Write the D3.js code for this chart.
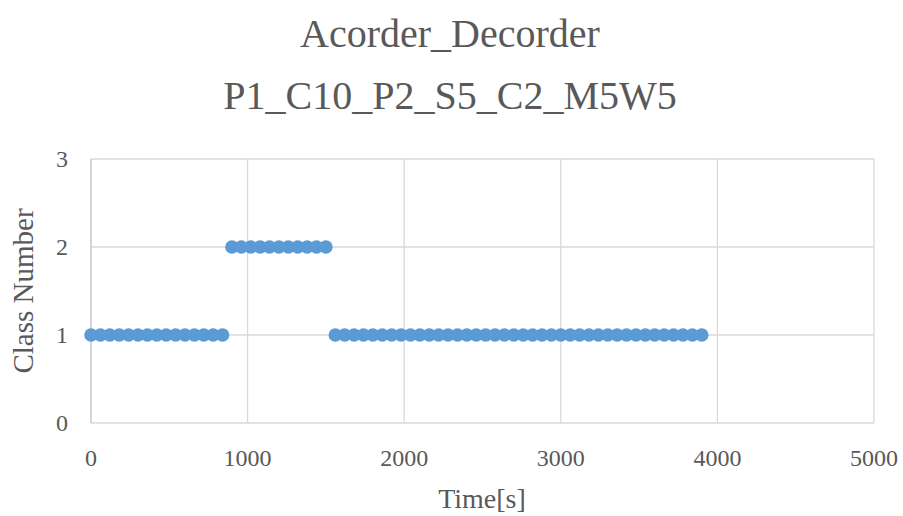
<!DOCTYPE html>
<html>
<head>
<meta charset="utf-8">
<script src="https://cdn.jsdelivr.net/npm/d3@7"></script>
<style>
body{margin:0;background:#fff;}
text{font-family:"Liberation Serif","DejaVu Serif",serif;fill:#595959;}
</style>
</head>
<body>
<svg id="c" width="903" height="516"></svg>
<script>
const titleLines = ["Acorder_Decorder", "P1_C10_P2_S5_C2_M5W5"];
const xTicks = [0, 1000, 2000, 3000, 4000, 5000];
const yTicks = [0, 1, 2, 3];
const times = [
  0,60,120,180,240,300,360,420,480,540,600,660,720,780,840,
  900,960,1020,1080,1140,1200,1260,1320,1380,1440,1500,
  1560,1620,1680,1740,1800,1860,1920,1980,2040,2100,2160,2220,2280,2340,
  2400,2460,2520,2580,2640,2700,2760,2820,2880,2940,3000,3060,3120,3180,
  3240,3300,3360,3420,3480,3540,3600,3660,3720,3780,3840,3900
];
const classes = [
  1,1,1,1,1,1,1,1,1,1,1,1,1,1,1,
  2,2,2,2,2,2,2,2,2,2,2,
  1,1,1,1,1,1,1,1,1,1,1,1,1,1,
  1,1,1,1,1,1,1,1,1,1,1,1,1,1,
  1,1,1,1,1,1,1,1,1,1,1,1
];

const svg = d3.select("#c");
const m = {l:91, r:874, t:159, b:423};
const x = d3.scaleLinear().domain([0,5000]).range([m.l, m.r]);
const y = d3.scaleLinear().domain([0,3]).range([m.b, m.t]);

// grid
svg.append("g").selectAll("line").data(yTicks).join("line")
  .attr("x1", m.l).attr("x2", m.r)
  .attr("y1", d=>y(d)).attr("y2", d=>y(d))
  .attr("stroke", "#d9d9d9").attr("stroke-width", 1.3);
svg.append("g").selectAll("line").data(xTicks).join("line")
  .attr("y1", m.t).attr("y2", m.b)
  .attr("x1", d=>x(d)).attr("x2", d=>x(d))
  .attr("stroke", d=> d===0 ? "#bfbfbf" : "#d9d9d9").attr("stroke-width", 1.3);

// tick labels
svg.append("g").selectAll("text").data(yTicks).join("text")
  .attr("x", 68).attr("y", d=>y(d)).attr("dy","0.35em")
  .attr("text-anchor","end").attr("font-size", 24).text(d=>d);
svg.append("g").selectAll("text").data(xTicks).join("text")
  .attr("x", d=>x(d)).attr("y", 466)
  .attr("text-anchor","middle").attr("font-size", 24).text(d=>d);

// titles
svg.append("g").selectAll("text").data(titleLines).join("text")
  .attr("x", 450).attr("y", (d,i)=> i===0 ? 47 : 109)
  .attr("text-anchor","middle").attr("font-size", 40).text(d=>d);

svg.append("text").attr("x", 482).attr("y", 508)
  .attr("text-anchor","middle").attr("font-size", 28).text("Time[s]");
svg.append("text")
  .attr("transform", `translate(33,${(m.t+m.b)/2}) rotate(-90)`)
  .attr("text-anchor","middle").attr("font-size", 29).text("Class Number");

// points
svg.append("g").selectAll("circle").data(times).join("circle")
  .attr("cx", d=>x(d)).attr("cy", (d,i)=>y(classes[i]))
  .attr("r", 6.8).attr("fill", "#5b9bd5");
</script>
</body>
</html>
